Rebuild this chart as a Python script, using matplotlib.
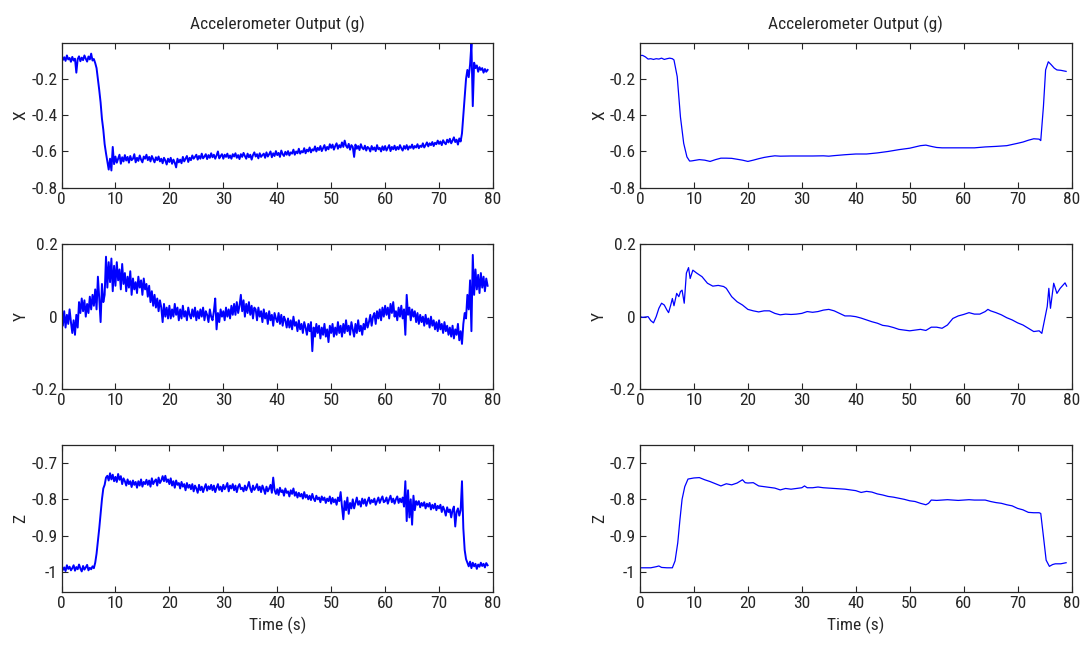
import numpy as np
import matplotlib
matplotlib.use("Agg")
import matplotlib.pyplot as plt

plt.rcParams['font.family'] = ['Roboto Condensed', 'Archivo Narrow', 'DejaVu Sans']

# ---------------- raw accelerometer samples (mg), 0.25 s apart ----------------
RAW_DT = 0.25

raw_x_mg = [
    -72, -95, -80, -100, -70, -92, -84, -105,
    -78, -98, -88, -165, -90, -75, -102, -82,
    -96, -70, -88, -104, -76, -92, -60, -98,
    -90, -112, -140, -200, -262, -330, -420, -480,
    -560, -610, -655, -700, -640, -705, -575, -670,
    -628, -662, -640, -618, -668, -632, -655, -620,
    -650, -630, -662, -625, -648, -640, -615, -660,
    -635, -652, -622, -645, -660, -628, -640, -618,
    -648, -630, -655, -625, -642, -660, -632, -648,
    -628, -655, -640, -665, -635, -650, -672, -640,
    -658, -635, -668, -645, -662, -688, -640, -660,
    -645, -665, -630, -655, -640, -625, -658, -635,
    -648, -622, -640, -630, -618, -645, -625, -640,
    -612, -638, -628, -615, -642, -620, -635, -610,
    -632, -618, -640, -622, -600, -638, -625, -615,
    -640, -618, -630, -612, -636, -622, -640, -615,
    -628, -610, -635, -620, -642, -615, -630, -608,
    -625, -640, -612, -632, -618, -645, -620, -605,
    -628, -615, -638, -610, -630, -620, -612, -635,
    -605, -628, -615, -600, -632, -610, -625, -598,
    -620, -608, -630, -595, -615, -625, -602, -618,
    -598, -622, -605, -612, -590, -618, -600, -610,
    -585, -612, -598, -605, -582, -610, -590, -600,
    -578, -605, -588, -595, -572, -600, -580, -592,
    -570, -598, -582, -565, -595, -575, -588, -560,
    -580, -562, -590, -570, -555, -585, -565, -578,
    -550, -575, -540, -568, -580, -558, -590, -565,
    -575, -630, -562, -585, -570, -592, -560, -580,
    -588, -568, -595, -575, -582, -600, -570, -590,
    -578, -598, -565, -588, -580, -600, -572, -592,
    -570, -595, -580, -565, -598, -575, -588, -568,
    -592, -575, -588, -565, -582, -595, -570, -585,
    -565, -590, -572, -580, -562, -585, -570, -578,
    -560, -582, -568, -575, -555, -578, -565, -550,
    -572, -555, -565, -548, -570, -552, -560, -540,
    -558, -545, -565, -538, -552, -560, -535, -550,
    -530, -555, -540, -522, -548, -535, -562, -528,
    -545, -500, -400, -300, -200, -150, -190, -120,
    -5, -350, -110, -140, -125, -160, -135, -150,
    -140, -165, -145, -160, -150,
]

raw_y_mg = [
    10, -25, 15, -30, 5, -20, 20, -15,
    -45, -10, -50, 5, -30, 40, 10, 50,
    15, 45, 0, 35, 10, 55, 20, 60,
    30, 75, 20, 110, 50, -15, 90, 40,
    60, 165, 80, 150, 95, 160, 70, 140,
    85, 150, 100, 130, 75, 145, 90, 120,
    70, 110, 80, 125, 60, 105, 75, 95,
    65, 110, 80, 100, 60, 105, 75, 90,
    55, 85, 40, 70, 30, 60, 25, 50,
    15, 45, 25, -15, 35, 0, 25, -5,
    30, -5, 20, 0, 35, 5, 25, -10,
    20, -5, 30, 0, 15, -10, 25, 5,
    -5, 20, 0, 25, -10, 15, -5, 20,
    0, 25, -10, 15, 5, -15, 20, 0,
    -10, 15, 50, -35, 10, -15, 20, 0,
    15, -10, 25, 0, 20, -5, 30, 5,
    35, 5, 40, 10, 30, 60, 15, 45,
    0, 35, 10, 40, 5, 30, -5, 25,
    20, -10, 25, 0, 15, -15, 20, -5,
    10, -20, 15, -10, 5, -25, 10, -5,
    -15, 10, -20, 5, -25, 0, -10, -30,
    -5, -30, -10, -35, 0, -25, -15, -40,
    -10, -35, -20, -45, -15, -30, -50, -20,
    -40, -15, -95, -30, -55, -20, -45, -25,
    -60, -30, -50, -20, -55, -35, -70, -25,
    -45, -20, -55, -30, -50, -15, -45, -25,
    -55, -20, -45, -10, -40, -25, -50, -15,
    -35, -55, -20, -45, -10, -40, -25, -50,
    -20, -35, -5, -30, -15, 5, -25, 0,
    10, -20, 15, -5, 20, -10, 25, 0,
    30, 5, 25, -5, 35, 10, 40, 0,
    15, -10, 25, 0, 30, -5, 20, -50,
    60, 5, 25, -10, 20, 0, 15, -15,
    10, -20, 5, -15, 0, -25, 5, -20,
    -5, -30, 0, -25, -10, -35, -15, -40,
    -10, -35, -20, -45, -15, -40, -25, -50,
    -30, -55, -25, -60, -35, -50, -20, -65,
    -40, -75, -20, 10, -5, 60, 20, 100,
    -40, 170, 60, 130, 75, 115, 65, 120,
    80, 110, 70, 105, 85,
]

raw_z_mg = [
    -985, -995, -988, -998, -982, -992, -986, -996,
    -990, -982, -997, -987, -993, -980, -991, -999,
    -984, -994, -988, -981, -996, -989, -993, -985,
    -990, -975, -950, -915, -880, -840, -800, -770,
    -760, -740, -735, -748, -728, -745, -732, -750,
    -738, -752, -730, -746, -736, -758, -742, -750,
    -762, -745, -758, -750, -766, -748, -760, -752,
    -768, -750, -762, -745, -765, -752, -758, -746,
    -760, -748, -765, -742, -758, -750, -745, -762,
    -740, -755, -748, -736, -750, -735, -752, -745,
    -758, -742, -762, -750, -768, -748, -760, -755,
    -770, -752, -765, -758, -775, -755, -768, -760,
    -772, -758, -778, -762, -770, -782, -760, -775,
    -765, -780, -768, -758, -776, -764, -772, -760,
    -775, -762, -780, -768, -758, -774, -765, -778,
    -760, -772, -765, -755, -778, -762, -770, -758,
    -775, -762, -780, -765, -758, -772, -768, -778,
    -762, -775, -765, -752, -770, -780, -762, -774,
    -768, -758, -775, -765, -780, -762, -772, -785,
    -765, -778, -770, -760, -782, -740, -775, -785,
    -772, -788, -768, -780, -775, -790, -770, -782,
    -778, -792, -775, -785, -770, -790, -780, -795,
    -782, -792, -785, -798, -780, -795, -788, -800,
    -790, -802, -785, -798, -805, -790, -800, -795,
    -808, -792, -802, -795, -810, -798, -805, -792,
    -812, -796, -808, -800, -815, -795, -805, -780,
    -820, -855, -805, -830, -795, -840, -810, -825,
    -800, -825, -810, -795, -815, -805, -820, -798,
    -812, -800, -818, -805, -795, -812, -802, -808,
    -798, -815, -805, -795, -810, -800, -792, -808,
    -805, -795, -812, -800, -790, -808, -798, -812,
    -800, -792, -810, -798, -808, -795, -820, -750,
    -860, -775, -850, -800, -870, -790, -830, -805,
    -815, -805, -822, -810, -818, -808, -825, -812,
    -820, -810, -828, -815, -825, -812, -830, -818,
    -825, -815, -835, -820, -830, -845, -822, -835,
    -828, -850, -830, -820, -875, -835, -825, -845,
    -830, -750, -880, -940, -965, -975, -985, -972,
    -990, -975, -985, -978, -992, -980, -986, -975,
    -984, -978, -988, -976, -982,
]

# ---------------- filtered output (g) ----------------
filt_x_t = [0, 0.5, 1, 1.5, 2, 2.5, 3, 3.5, 4, 4.5, 5, 5.5, 6, 6.3, 6.9, 7.5, 8.1,
            8.7, 9.2, 9.6, 10, 11, 12, 13, 14, 15, 16, 17, 18, 19, 20, 21, 22, 23,
            24, 25, 26, 28, 30, 32, 34, 35, 36, 38, 40, 42, 44, 46, 48, 50, 51, 52,
            53, 54, 55, 56, 58, 60, 62, 64, 66, 68, 70, 71, 72, 73, 74, 74.3, 74.8,
            75.2, 75.7, 76.2, 76.8, 77.3, 78, 79]
filt_x = [-0.070, -0.070, -0.078, -0.090, -0.088, -0.092, -0.088, -0.090, -0.085,
          -0.092, -0.088, -0.085, -0.088, -0.095, -0.187, -0.410, -0.555,
          -0.630, -0.653, -0.652, -0.650, -0.645, -0.648, -0.655, -0.645, -0.637,
          -0.637, -0.638, -0.643, -0.648, -0.655, -0.648, -0.640, -0.633, -0.628,
          -0.624, -0.626, -0.625, -0.625, -0.625, -0.624, -0.626, -0.623, -0.618,
          -0.614, -0.614, -0.608, -0.600, -0.590, -0.582, -0.575, -0.568, -0.565,
          -0.572, -0.578, -0.580, -0.580, -0.580, -0.580, -0.575, -0.572, -0.568,
          -0.555, -0.548, -0.538, -0.530, -0.532, -0.540, -0.350, -0.150, -0.105,
          -0.120, -0.140, -0.150, -0.152, -0.158]

filt_y_t = [0, 0.5, 1.5, 2, 2.5, 3, 3.5, 4, 4.5, 5, 5.3, 5.7, 6, 6.3, 6.8, 7.2, 7.5,
            7.8, 8.2, 8.6, 9, 9.3, 9.8, 10.5, 11.5, 12.5, 13.5, 14.5, 15.5, 16, 17,
            18, 19, 20, 21, 22, 23, 24, 25, 26, 27, 28, 29, 30, 31, 32, 33, 34, 35,
            36, 37, 38, 39, 40, 41, 42, 43, 44, 45, 46, 47, 48, 49, 50, 51, 52, 53,
            54, 55, 56, 57, 58, 59, 60, 61, 62, 63, 64, 64.5, 65, 66, 67, 68, 69,
            70, 71, 72, 73, 74, 74.5, 75, 75.5, 75.8, 76.1, 76.7, 77.3, 77.9, 78.8,
            79.1]
filt_y = [0.0, -0.002, 0.0, -0.011, -0.017, 0.0, 0.023, 0.037, 0.032, 0.018, 0.011,
          0.032, 0.050, 0.030, 0.064, 0.055, 0.069, 0.073, 0.037, 0.120, 0.135,
          0.105, 0.128, 0.120, 0.110, 0.092, 0.084, 0.086, 0.083, 0.078, 0.055,
          0.041, 0.032, 0.020, 0.016, 0.013, 0.016, 0.016, 0.009, 0.005, 0.007,
          0.006, 0.007, 0.009, 0.014, 0.012, 0.014, 0.018, 0.020, 0.016, 0.009,
          0.002, 0.002, 0.0, -0.004, -0.009, -0.014, -0.018, -0.024, -0.026,
          -0.030, -0.035, -0.037, -0.039, -0.037, -0.035, -0.038, -0.029, -0.029,
          -0.032, -0.023, -0.005, 0.002, 0.006, 0.011, 0.007, 0.007, 0.014, 0.020,
          0.016, 0.011, 0.005, -0.003, -0.009, -0.017, -0.023, -0.032, -0.041,
          -0.039, -0.046, -0.009, 0.028, 0.078, 0.023, 0.092, 0.064, 0.078, 0.093,
          0.084]

filt_z_t = [0, 1, 2, 3, 3.5, 4, 5, 6, 6.5, 7, 7.4, 7.8, 8.3, 8.9, 10, 11, 12, 13, 14,
            15, 16, 17, 18, 19, 19.5, 20, 21, 22, 23, 24, 25, 26, 27, 28, 29, 30,
            30.5, 31, 32, 33, 34, 35, 36, 37, 38, 39, 40, 41, 42, 43, 44, 45, 46,
            47, 48, 49, 50, 51, 52, 53, 53.5, 54, 55, 56, 57, 58, 59, 60, 61, 62,
            63, 64, 65, 66, 67, 68, 69, 70, 71, 72, 73, 74, 74.3, 74.8, 75.3, 75.9,
            76.5, 77, 78, 79]
filt_z = [-0.989, -0.989, -0.989, -0.986, -0.984, -0.988, -0.989, -0.989, -0.970,
          -0.920, -0.857, -0.800, -0.765, -0.744, -0.741, -0.740, -0.746, -0.751,
          -0.757, -0.763, -0.757, -0.760, -0.755, -0.746, -0.754, -0.755, -0.754,
          -0.763, -0.765, -0.767, -0.769, -0.774, -0.770, -0.772, -0.770, -0.768,
          -0.763, -0.768, -0.768, -0.766, -0.768, -0.769, -0.770, -0.771, -0.772,
          -0.774, -0.776, -0.781, -0.778, -0.780, -0.785, -0.788, -0.792, -0.794,
          -0.797, -0.800, -0.804, -0.806, -0.811, -0.815, -0.811, -0.802, -0.803,
          -0.802, -0.801, -0.802, -0.803, -0.802, -0.801, -0.802, -0.802, -0.802,
          -0.806, -0.809, -0.811, -0.815, -0.818, -0.825, -0.829, -0.836, -0.837,
          -0.837, -0.839, -0.903, -0.968, -0.985, -0.980, -0.978, -0.978, -0.975]

axis_names = ["X", "Y", "Z"]
y_limits = [(-0.8, -0.003), (-0.2, 0.2), (-1.055, -0.65)]
y_ticks = [[-0.8, -0.6, -0.4, -0.2], [-0.2, 0, 0.2], [-1.0, -0.9, -0.8, -0.7]]
y_ticklabels = [["-0.8", "-0.6", "-0.4", "-0.2"], ["-0.2", "0", "0.2"],
                ["-1", "-0.9", "-0.8", "-0.7"]]
x_ticks = [0, 10, 20, 30, 40, 50, 60, 70, 80]
title_text = "Accelerometer Output (g)"
xlabel_text = "Time (s)"

raw_series = [np.array(raw_x_mg) / 1000.0, np.array(raw_y_mg) / 1000.0,
              np.array(raw_z_mg) / 1000.0]
filt_series = [(filt_x_t, filt_x), (filt_y_t, filt_y), (filt_z_t, filt_z)]

LINE = "#0000ff"
INK = "#262626"
W, H = 1086, 654
fig = plt.figure(figsize=(W / 100, H / 100), dpi=100)

col_left = [61.5, 640]
col_width = 431.5
rows = [(43.3, 187.7), (244, 389.3), (445, 591.7)]

FS = 12.5

def style_axes(ax, r):
    ax.set_xlim(0, 80)
    ax.set_ylim(*y_limits[r])
    ax.set_xticks(x_ticks)
    ax.set_xticklabels([str(v) for v in x_ticks])
    ax.set_yticks(y_ticks[r])
    ax.set_yticklabels(y_ticklabels[r])
    ax.tick_params(direction="in", top=True, right=True, length=4.5, width=0.8,
                   labelsize=FS, colors=INK, pad=3)
    for sp in ax.spines.values():
        sp.set_linewidth(0.9)
        sp.set_color(INK)
    ax.set_ylabel(axis_names[r], fontsize=FS, color=INK, labelpad=2)

for c in range(2):
    for r in range(3):
        top, bot = rows[r]
        ax = fig.add_axes([col_left[c] / W, 1 - bot / H, col_width / W, (bot - top) / H])
        if c == 0:
            vals = raw_series[r]
            t = np.arange(len(vals)) * RAW_DT
            ax.plot(t, vals, color=LINE, lw=1.4)
        else:
            t, vals = filt_series[r]
            ax.plot(t, vals, color=LINE, lw=0.9)
        style_axes(ax, r)
        if r == 0:
            ax.set_title(title_text, fontsize=FS, color=INK, pad=10)
        if r == 2:
            ax.set_xlabel(xlabel_text, fontsize=FS, color=INK, labelpad=4)

fig.savefig("out.png", dpi=100)
